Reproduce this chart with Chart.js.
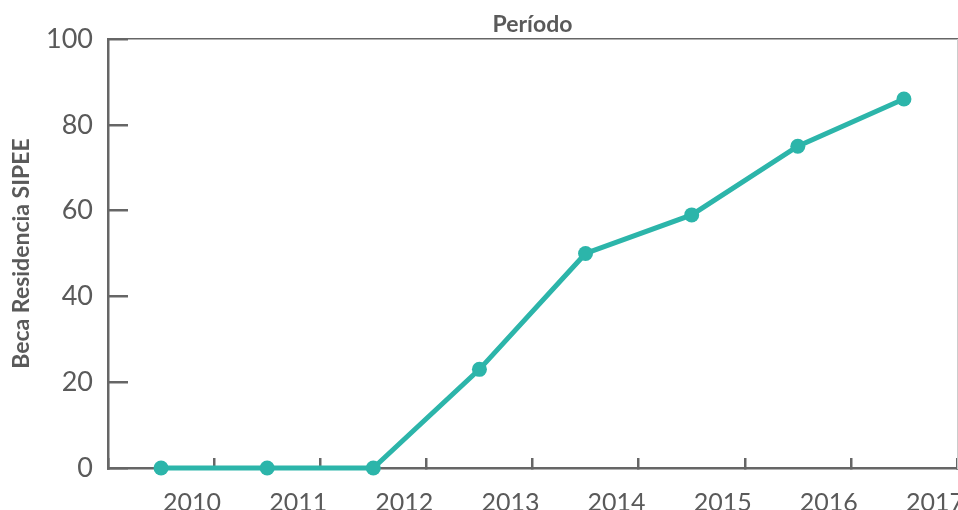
<!DOCTYPE html>
<html>
<head>
<meta charset="utf-8">
<script src="https://cdn.jsdelivr.net/npm/chart.js@4/dist/chart.umd.min.js"></script>
<style>
html,body{margin:0;padding:0;background:#fff;}
#wrap{width:958px;height:510px;position:relative;}
</style>
</head>
<body>
<div id="wrap"><canvas id="c"></canvas></div>
<script>
const years = ["2010","2011","2012","2013","2014","2015","2016","2017"];
const becaValues = [0, 0, 0, 23, 50, 59, 75, 86];
const yTicks = [0, 20, 40, 60, 80, 100];
const xTitle = "Período";
const yTitle = "Beca Residencia SIPEE";

const teal = "#2cb5aa";
const axisGray = "#666666";
const textGray = "#5a5a5a";
const FONT = "Lato";

function noPad(s) { s.paddingTop = 0; s.paddingBottom = 0; s.paddingLeft = 0; s.paddingRight = 0; }

new Chart(document.getElementById("c"), {
  type: "line",
  data: {
    labels: years,
    datasets: [{
      data: becaValues,
      borderColor: teal,
      backgroundColor: teal,
      borderWidth: 5,
      pointRadius: 7.5,
      pointHoverRadius: 7.5,
      pointBackgroundColor: teal,
      pointBorderWidth: 0,
      tension: 0,
      clip: false
    }]
  },
  options: {
    responsive: true,
    maintainAspectRatio: false,
    animation: false,
    layout: { padding: 0, autoPadding: false },
    plugins: { legend: { display: false }, tooltip: { enabled: false } },
    scales: {
      x: {
        type: "category",
        position: "bottom",
        offset: true,
        grid: { display: true, offset: true, drawOnChartArea: false, drawTicks: true, tickLength: -10, color: axisGray, lineWidth: 2.5 },
        border: { display: true, color: axisGray, width: 2.5 },
        ticks: { color: textGray, font: { family: FONT, size: 25 }, padding: 30, labelOffset: 31, maxRotation: 0, autoSkip: false },
        afterFit: s => { s.height = 42; noPad(s); }
      },
      x2: {
        type: "category",
        position: "top",
        labels: years,
        offset: true,
        grid: { display: false },
        border: { display: true, color: axisGray, width: 1.5 },
        ticks: { display: false },
        title: { display: true, text: xTitle, color: textGray, font: { family: FONT, size: 23, weight: "bold" }, padding: { top: 11, bottom: 0 } },
        afterFit: s => { s.height = 39; noPad(s); }
      },
      y: {
        type: "linear",
        position: "left",
        min: 0,
        max: 100,
        afterBuildTicks: s => { s.ticks = yTicks.map(v => ({ value: v })); },
        grid: { display: true, drawOnChartArea: false, drawTicks: true, tickLength: -20, color: axisGray, lineWidth: 2.5 },
        border: { display: true, color: axisGray, width: 2.5 },
        ticks: { color: textGray, font: { family: FONT, size: 27 }, padding: 35 },
        title: { display: true, text: yTitle, color: textGray, font: { family: FONT, size: 23, weight: "bold" }, padding: { top: 8, bottom: 0 } },
        afterFit: s => { s.width = 108; noPad(s); }
      },
      y2: {
        type: "linear",
        position: "right",
        min: 0,
        max: 100,
        grid: { display: false },
        border: { display: true, color: "#cccccc", width: 1 },
        ticks: { display: false },
        afterFit: s => { s.width = 1; noPad(s); }
      }
    }
  }
});
</script>
</body>
</html>
